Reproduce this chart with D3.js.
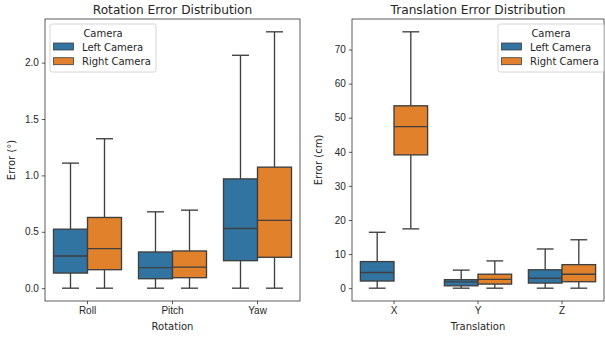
<!DOCTYPE html>
<html>
<head>
<meta charset="utf-8">
<script src="https://cdn.jsdelivr.net/npm/d3@7"></script>
<style>
  body { margin: 0; background: #fff; }
  svg { font-family: "DejaVu Sans", sans-serif; }
</style>
</head>
<body>
<svg width="605" height="337"></svg>
<script>
// five-number summaries: [min, q1, median, q3, max]
const cameras = ["Left Camera", "Right Camera"];
const colors = ["#3274a1", "#e1812c"];

const rotationCategories = ["Roll", "Pitch", "Yaw"];
const rotationLeft = [
    [0, 0.134, 0.285, 0.523, 1.109],
    [0, 0.084, 0.182, 0.321, 0.677],
    [0, 0.244, 0.529, 0.969, 2.065]
];
const rotationRight = [
    [0, 0.164, 0.351, 0.627, 1.325],
    [0, 0.093, 0.187, 0.330, 0.692],
    [0, 0.274, 0.601, 1.073, 2.273]
];
const rotationTicks = [0, 0.5, 1.0, 1.5, 2.0];

const translationCategories = ["X", "Y", "Z"];
const translationLeft = [
    [0, 2.1, 4.6, 7.8, 16.4],
    [0, 0.7, 1.85, 2.5, 5.3],
    [0, 1.5, 2.9, 5.4, 11.5]
];
const translationRight = [
    [17.4, 39.1, 47.4, 53.5, 75.2],
    [0, 1.2, 2.6, 4.1, 8.0],
    [0, 1.9, 4.1, 6.9, 14.2]
];
const translationTicks = [0, 10, 20, 30, 40, 50, 60, 70];

const svg = d3.select("svg");
const lineColor = "#3f3f3f";
const textColor = "#262626";

function drawPanel(opts) {
    const { left, right, top, bottom, categories, series, ticks, tickFmt,
            title, xLabel, yLabel, legendX } = opts;
    const g = svg.append("g");

    const allVals = series.flat(2);
    const lo = d3.min(allVals), hi = d3.max(allVals);
    const pad = (hi - lo) * 0.05;
    const y = d3.scaleLinear().domain([lo - pad, hi + pad]).range([bottom, top]);
    const x = d3.scaleBand().domain(categories).range([left, right]);
    const hue = d3.scaleBand().domain(cameras).range([0.1, 0.9]);

    // boxes
    series.forEach((data, si) => {
        data.forEach((d, ci) => {
            const bw = hue.bandwidth() * x.bandwidth();
            const x0 = x(categories[ci]) + hue(cameras[si]) * x.bandwidth();
            const cx = x0 + bw / 2;
            const cap = bw / 4;
            const bg = g.append("g").attr("stroke", lineColor).attr("stroke-width", 1.35);
            bg.append("line").attr("x1", cx).attr("x2", cx).attr("y1", y(d[0])).attr("y2", y(d[1]));
            bg.append("line").attr("x1", cx).attr("x2", cx).attr("y1", y(d[3])).attr("y2", y(d[4]));
            bg.append("line").attr("x1", cx - cap).attr("x2", cx + cap).attr("y1", y(d[0])).attr("y2", y(d[0]));
            bg.append("line").attr("x1", cx - cap).attr("x2", cx + cap).attr("y1", y(d[4])).attr("y2", y(d[4]));
            bg.append("rect")
                .attr("x", x0).attr("width", bw)
                .attr("y", y(d[3])).attr("height", y(d[1]) - y(d[3]))
                .attr("fill", colors[si]);
            bg.append("line").attr("x1", x0).attr("x2", x0 + bw).attr("y1", y(d[2])).attr("y2", y(d[2]));
        });
    });

    // axes
    const yAxis = g.append("g")
        .attr("transform", `translate(${left},0)`)
        .call(d3.axisLeft(y).tickValues(ticks).tickFormat(tickFmt).tickSize(3.2).tickPadding(3));
    const xAxis = g.append("g")
        .attr("transform", `translate(0,${bottom})`)
        .call(d3.axisBottom(x).tickSize(3.2).tickPadding(3));
    [yAxis, xAxis].forEach(a => {
        a.select(".domain").remove();
        a.selectAll("text").attr("font-size", 10).attr("fill", textColor);
        a.selectAll("line").attr("stroke", textColor).attr("stroke-width", 0.75);
    });

    g.append("rect")
        .attr("x", left).attr("y", top)
        .attr("width", right - left).attr("height", bottom - top)
        .attr("fill", "none").attr("stroke", textColor).attr("stroke-width", 0.75);

    g.append("text")
        .attr("x", (left + right) / 2).attr("y", top - 5)
        .attr("text-anchor", "middle").attr("font-size", 12.2).attr("fill", textColor)
        .text(title);
    g.append("text")
        .attr("x", (left + right) / 2).attr("y", 330)
        .attr("text-anchor", "middle").attr("font-size", 10).attr("fill", textColor)
        .text(xLabel);
    g.append("text")
        .attr("transform", `translate(${left - 30},${(top + bottom) / 2}) rotate(-90)`)
        .attr("text-anchor", "middle").attr("font-size", 10).attr("fill", textColor)
        .text(yLabel);

    // legend
    const lg = g.append("g").attr("transform", `translate(${legendX},${top + 5})`);
    lg.append("rect")
        .attr("width", 106).attr("height", 48).attr("rx", 2)
        .attr("fill", "white").attr("fill-opacity", 0.8)
        .attr("stroke", "#cccccc").attr("stroke-width", 0.8);
    lg.append("text")
        .attr("x", 53).attr("y", 12.5)
        .attr("text-anchor", "middle").attr("font-size", 10).attr("fill", textColor)
        .text("Camera");
    cameras.forEach((c, i) => {
        const row = lg.append("g").attr("transform", `translate(0,${19 + i * 14.7})`);
        row.append("rect")
            .attr("x", 3.5).attr("y", 0).attr("width", 20).attr("height", 7)
            .attr("fill", colors[i]).attr("stroke", lineColor).attr("stroke-width", 0.8);
        row.append("text")
            .attr("x", 32).attr("y", 7.5)
            .attr("font-size", 10).attr("fill", textColor)
            .text(c);
    });
}

drawPanel({
    left: 45, right: 300, top: 19, bottom: 301,
    categories: rotationCategories,
    series: [rotationLeft, rotationRight],
    ticks: rotationTicks, tickFmt: d3.format(".1f"),
    title: "Rotation Error Distribution", xLabel: "Rotation", yLabel: "Error (°)",
    legendX: 50
});

drawPanel({
    left: 352, right: 604, top: 19, bottom: 301,
    categories: translationCategories,
    series: [translationLeft, translationRight],
    ticks: translationTicks, tickFmt: d3.format("d"),
    title: "Translation Error Distribution", xLabel: "Translation", yLabel: "Error (cm)",
    legendX: 498
});
</script>
</body>
</html>
